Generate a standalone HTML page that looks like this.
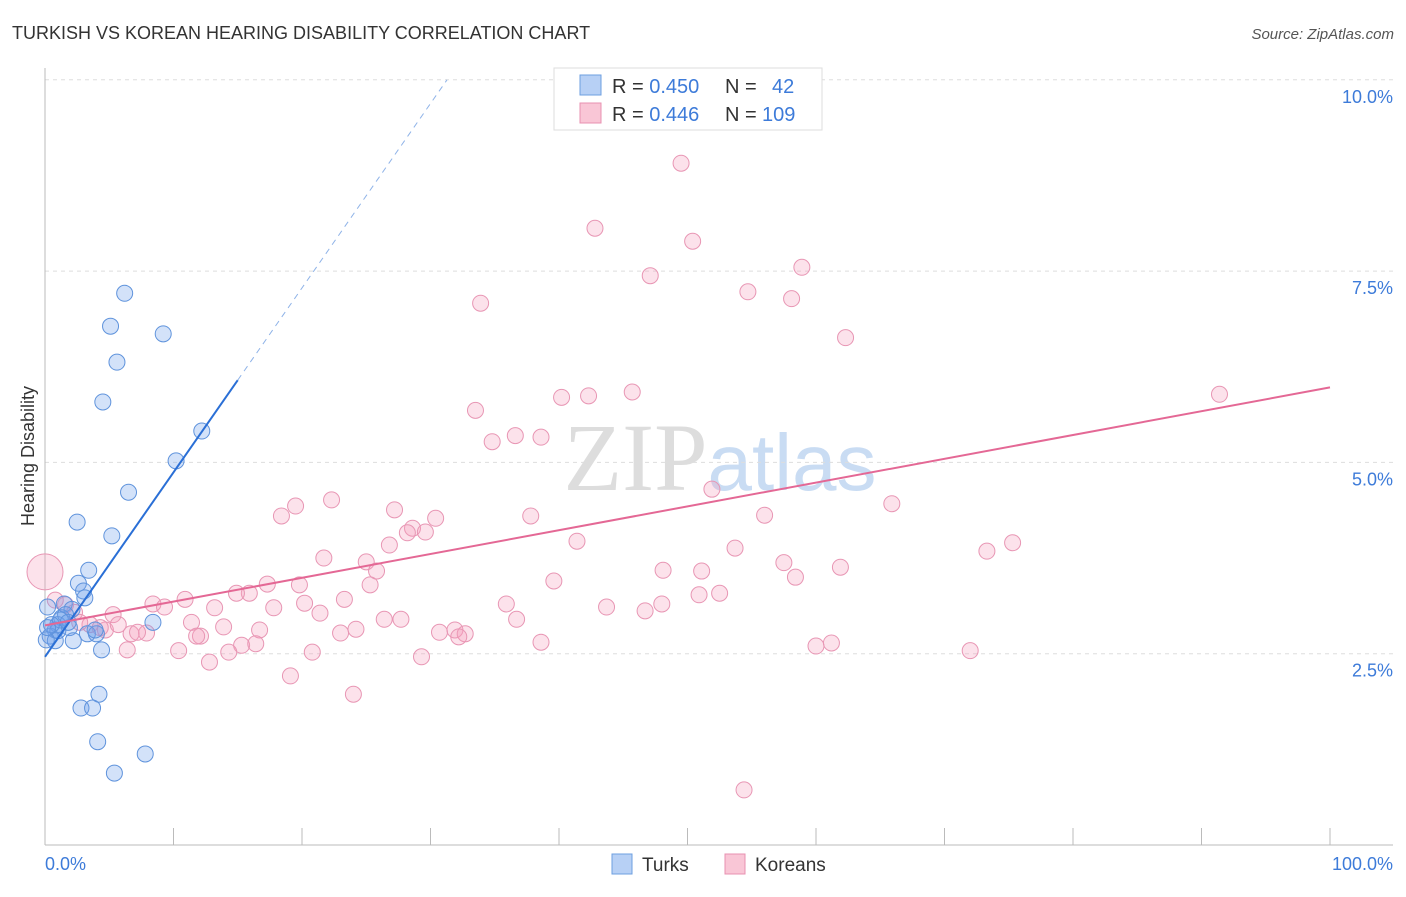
<!DOCTYPE html>
<html><head><meta charset="utf-8"><style>
body{margin:0;background:#fff;font-family:"Liberation Sans",sans-serif}
svg text{font-family:"Liberation Sans",sans-serif}
</style></head><body>
<svg id="chart" width="1406" height="892" xmlns="http://www.w3.org/2000/svg">
<text x="12" y="39" font-size="18" fill="#333">TURKISH VS KOREAN HEARING DISABILITY CORRELATION CHART</text>
<text x="1394" y="39" font-size="15" fill="#555" text-anchor="end" font-style="italic">Source: ZipAtlas.com</text>
<text x="720" y="490" font-size="96" text-anchor="middle"><tspan font-family="Liberation Serif" fill="#ddd">ZIP</tspan><tspan fill="#c9dcf3" font-size="80">atlas</tspan></text>
<g id="grid"></g>
<g id="pts"></g>
<g id="lines"></g>
<text transform="translate(34,456) rotate(-90)" font-size="18" fill="#333" text-anchor="middle">Hearing Disability</text>
<text x="45" y="870" font-size="18" fill="#3d7bd9">0.0%</text>
<text x="1393" y="870" font-size="18" fill="#3d7bd9" text-anchor="end">100.0%</text>
<g>
<rect x="554" y="68" width="268" height="62" fill="#fff" stroke="#ddd"/>
<rect x="580" y="75" width="21" height="20" fill="#b7d0f5" stroke="#6d9fe0"/>
<rect x="580" y="103" width="21" height="20" fill="#f9c6d6" stroke="#e890b0"/>
<text x="612" y="93" font-size="20" fill="#333">R = <tspan fill="#3d7bd9">0.450</tspan><tspan x="725">N =</tspan><tspan x="772" fill="#3d7bd9">42</tspan></text>
<text x="612" y="121" font-size="20" fill="#333">R = <tspan fill="#3d7bd9">0.446</tspan><tspan x="725">N =</tspan><tspan x="762" fill="#3d7bd9">109</tspan></text>
</g>
<g>
<rect x="612" y="854" width="20" height="20" fill="#b7d0f5" stroke="#6d9fe0"/>
<text x="642" y="871" font-size="19" fill="#333">Turks</text>
<rect x="725" y="854" width="20" height="20" fill="#f9c6d6" stroke="#e890b0"/>
<text x="755" y="871" font-size="19" fill="#333">Koreans</text>
</g>
</svg>
<script>
const yTicks=[2.5,5,7.5,10];
const yTickLabels=["2.5%","5.0%","7.5%","10.0%"];
const xTicks=[0,10,20,30,40,50,60,70,80,90,100];
const turksX=[6.2,5.1,9.2,5.6,4.5,12.2,10.2,6.5,2.5,5.2,3.4,2.6,3.0,3.1,1.5,2.1,0.2,1.3,1.0,8.4,0.8,1.9,3.3,4.0,0.4,0.8,2.2,4.4,1.0,0.1,4.2,2.8,3.7,4.1,7.8,5.4,1.6,1.2,0.5,1.8,3.9,0.2];
const turksY=[7.21,6.78,6.68,6.31,5.79,5.41,5.02,4.61,4.22,4.04,3.59,3.42,3.32,3.23,3.15,3.08,3.11,2.97,2.88,2.91,2.81,2.84,2.76,2.76,2.73,2.67,2.67,2.55,2.80,2.68,1.97,1.79,1.79,1.35,1.19,0.94,3.01,2.94,2.88,2.91,2.81,2.84];
const koreansX=[49.5,42.8,50.4,58.9,47.1,54.7,58.1,33.9,62.3,91.4,45.7,40.2,42.3,33.5,36.6,38.6,34.8,51.9,22.3,19.5,27.2,18.4,37.8,30.4,28.6,56.0,29.6,28.2,65.9,41.4,26.8,53.7,75.3,73.3,21.7,25.0,25.8,57.5,61.9,48.1,51.1,58.4,39.6,25.3,17.3,15.9,14.9,19.8,10.9,8.4,9.3,13.2,17.8,20.2,23.3,21.4,35.9,43.7,48.0,46.7,50.9,52.5,5.3,11.4,13.9,16.7,7.9,6.7,7.2,12.1,11.8,24.2,26.4,27.7,30.7,31.9,32.7,32.2,36.7,23.0,15.3,16.4,14.3,38.6,6.4,10.4,20.8,29.3,12.8,60.0,61.2,72.0,19.1,24.0,54.4,1.6,2.3,3.5,4.7,0.8,2.7,5.7,4.3];
const koreansY=[8.91,8.06,7.89,7.55,7.44,7.23,7.14,7.08,6.63,5.89,5.92,5.85,5.87,5.68,5.35,5.33,5.27,4.65,4.51,4.43,4.38,4.30,4.30,4.27,4.14,4.31,4.09,4.08,4.46,3.97,3.92,3.88,3.95,3.84,3.75,3.70,3.58,3.69,3.63,3.59,3.58,3.50,3.45,3.40,3.41,3.29,3.29,3.40,3.21,3.15,3.11,3.10,3.10,3.16,3.21,3.03,3.15,3.11,3.15,3.06,3.27,3.29,3.01,2.91,2.85,2.81,2.77,2.76,2.78,2.73,2.73,2.82,2.95,2.95,2.78,2.81,2.76,2.72,2.95,2.77,2.61,2.63,2.52,2.65,2.55,2.54,2.52,2.46,2.39,2.60,2.64,2.54,2.21,1.97,0.72,3.14,3.04,2.88,2.81,3.20,2.91,2.88,2.84];
const bigKorean=[0,3.57];
const turksFit=[2.46,0.241];
const koreansFit=[2.87,0.0311];
const NS="http://www.w3.org/2000/svg";
const sx=v=>45+v*12.85, sy=v=>845-v*76.52;
function mk(t,a,p){const e=document.createElementNS(NS,t);for(const k in a)e.setAttribute(k,a[k]);p.appendChild(e);return e;}
const grid=document.getElementById('grid');
yTicks.forEach((t,i)=>{
 const l=mk('line',{x1:45,x2:1393,y1:sy(t),y2:sy(t),stroke:'#ddd','stroke-dasharray':'4,4'},grid);
 
 
 const tx=mk('text',{x:1393,y:sy(t)+23,'font-size':18,fill:'#3d7bd9','text-anchor':'end'},grid);
 tx.textContent=yTickLabels[i];
 
 
});
const ax=mk('line',{x1:45,x2:1393,y1:845,y2:845,stroke:'#bbb'},grid);


const ay=mk('line',{x1:45,x2:45,y1:68,y2:845,stroke:'#bbb'},grid);


xTicks.forEach(t=>{const l=mk('line',{x1:sx(t),x2:sx(t),y1:845,y2:828,stroke:'#bbb'},grid);
 
 });
const pts=document.getElementById('pts');
koreansX.forEach((x,i)=>{const c=mk('circle',{cx:sx(x),cy:sy(koreansY[i]),r:8,fill:'rgba(244,160,190,0.3)',stroke:'#e896b4','stroke-width':1},pts);
 
 });
const bk=mk('circle',{cx:sx(bigKorean[0]),cy:sy(bigKorean[1]),r:18,fill:'rgba(244,160,190,0.3)',stroke:'#e896b4'},pts);


turksX.forEach((x,i)=>{const c=mk('circle',{cx:sx(x),cy:sy(turksY[i]),r:8,fill:'rgba(110,160,235,0.3)',stroke:'#5f93dc','stroke-width':1},pts);
 
 });
const lines=document.getElementById('lines');
const xEnd=(10-turksFit[0])/turksFit[1];
const bs=mk('line',{x1:sx(0),y1:sy(turksFit[0]),x2:sx(15),y2:sy(turksFit[0]+turksFit[1]*15),stroke:'#2a6fd6','stroke-width':2},lines);


const bd=mk('line',{x1:sx(15),y1:sy(turksFit[0]+turksFit[1]*15),x2:sx(xEnd),y2:sy(10),stroke:'#8fb3e8','stroke-width':1,'stroke-dasharray':'6,5'},lines);


const kl=mk('line',{x1:sx(0),y1:sy(koreansFit[0]),x2:sx(100),y2:sy(koreansFit[0]+koreansFit[1]*100),stroke:'#e46895','stroke-width':2},lines);


</script>
</body></html>
